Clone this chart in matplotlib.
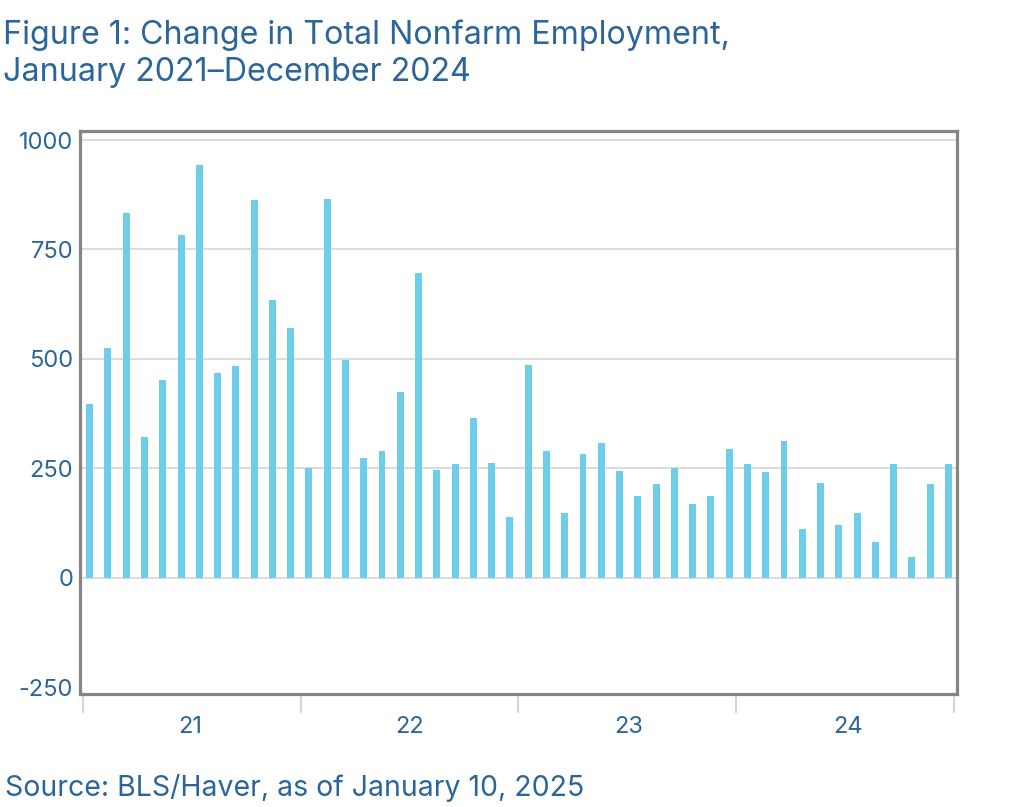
import numpy as np
import matplotlib.pyplot as plt

plt.rcParams['font.family'] = ['Inter', 'DejaVu Sans']

# monthly change in nonfarm payrolls, thousands, Jan 2021 - Dec 2024
changes = [398, 525, 833, 321, 452, 783, 942, 468, 484, 864, 635, 570,
           251, 866, 498, 274, 289, 424, 696, 246, 260, 364, 263, 139,
           485, 290, 147, 282, 307, 243, 186, 213, 251, 168, 186, 295,
           260, 242, 312, 111, 217, 121, 147, 81, 260, 47, 215, 260]
years = ['21', '22', '23', '24']
yticks = [-250, 0, 250, 500, 750, 1000]

title1 = 'Figure 1: Change in Total Nonfarm Employment,'
title2 = 'January 2021\u2013December 2024'
source = 'Source: BLS/Haver, as of January 10, 2025'

textcol = '#2b6599'
barcol = '#6ecde9'

fig = plt.figure(figsize=(10.24, 8.07), dpi=100)
ax = fig.add_axes([80/1024, 1 - 694/807, 877/1024, 563/807])

x = np.arange(len(changes))
ax.bar(x, changes, width=0.38, color=barcol, zorder=3)

ax.set_xlim(-0.53, 47.47)
ax.set_ylim(-265.7, 1020.6)

ax.set_yticks(yticks)
ax.set_yticklabels([str(v) for v in yticks])
ax.yaxis.grid(True, color='#d9d9d9', linewidth=1.3, zorder=0)
ax.yaxis.get_gridlines()[0].set_visible(False)  # no line at -250
ax.tick_params(axis='y', length=0, pad=5, labelsize=17, labelcolor=textcol)

# year boundaries as ticks, year labels centred between them
ax.set_xticks(np.linspace(-0.38, 47.3, len(years) + 1))
ax.set_xticklabels([])
ax.tick_params(axis='x', which='major', length=13.5, width=1.2, color='#cccccc')
ax.set_xticks(np.arange(len(years)) * 12 + 5.5, minor=True)
ax.set_xticklabels(years, minor=True)
ax.tick_params(axis='x', which='minor', length=0, pad=16, labelsize=17,
               labelcolor=textcol)

for s in ax.spines.values():
    s.set_color('#858585')
    s.set_linewidth(2.3)
    s.set_zorder(5)

fig.text(0.003, 1 - 44/807, title1, fontsize=23.2, color=textcol, va='baseline')
fig.text(0.003, 1 - 81/807, title2, fontsize=23.2, color=textcol, va='baseline')
fig.text(0.005, 1 - 796/807, source, fontsize=20.5, color=textcol, va='baseline')

plt.savefig('out.png', dpi=100)
plt.close()
